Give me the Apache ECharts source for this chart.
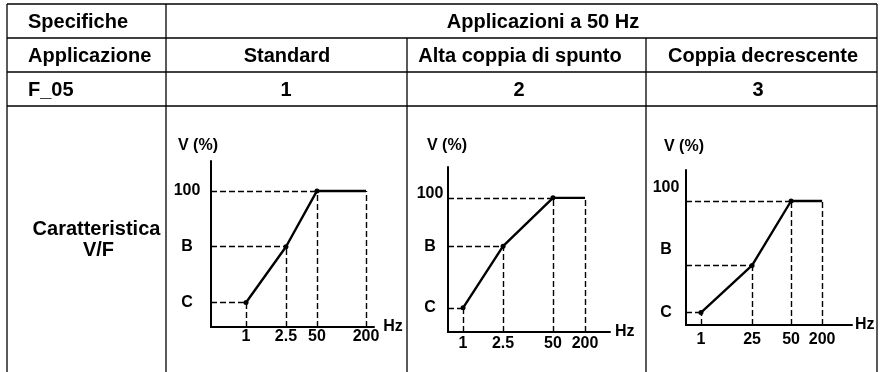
<!DOCTYPE html>
<html>
<head>
<meta charset="utf-8">
<script src="https://cdn.jsdelivr.net/npm/echarts@6/dist/echarts.min.js"></script>
<style>
  html, body { margin: 0; padding: 0; background: #fff; }
  #chart { width: 880px; height: 372px; }
</style>
</head>
<body>
<div id="chart"></div>
<script>
// ---- Table text ----
const specRowLabels = ['Specifiche', 'Applicazione', 'F_05'];
const spanTitle = 'Applicazioni a 50 Hz';
const applicationNames = ['Standard', 'Alta coppia di spunto', 'Coppia decrescente'];
const f05Values = ['1', '2', '3'];
const curveRowLabel = ['Caratteristica', 'V/F'];
const yAxisTitle = 'V (%)';
const xAxisTitle = 'Hz';

// ---- V/F curves (voltage in % of rated, frequency breakpoints in Hz) ----
const levelNames = ['C', 'B', '100'];

const standardHz = [1, 2.5, 50, 200];
const standardHzLabels = ['1', '2.5', '50', '200'];
const standardV = [18, 59, 100, 100];

const altaHz = [1, 2.5, 50, 200];
const altaHzLabels = ['1', '2.5', '50', '200'];
const altaV = [18, 64, 100, 100];

const decrescenteHz = [1, 25, 50, 200];
const decrescenteHzLabels = ['1', '25', '50', '200'];
const decrescenteV = [10, 48, 100, 100];

// ---- Styling / layout ----
const INK = '#000';
const FONT = '"Liberation Sans", Arial, Helvetica, sans-serif';

// The frequency axis is schematic (not to scale): each breakpoint sits at a
// fixed fraction of the axis length.
const panels = [
  {
    hz: standardHz, hzLabels: standardHzLabels, v: standardV,
    grid: { left: 211, top: 161, width: 163, height: 166 }, vMax: 122,
    freqStops: [0.215, 0.46, 0.65, 0.951],
    levelLabelAt: [18, 59, 100],
    yLabelMargin: 24, xLabelMargin: 2,
    vNamePad: [0, 26, 0, 0], vNameGap: 7,
    hzNameGap: 9, hzNamePad: [0, 0, 6, 0]
  },
  {
    hz: altaHz, hzLabels: altaHzLabels, v: altaV,
    grid: { left: 448, top: 167, width: 162, height: 165 }, vMax: 123,
    freqStops: [0.093, 0.34, 0.648, 0.846],
    levelLabelAt: [18, 64, 103.5],
    yLabelMargin: 18, xLabelMargin: 4,
    vNamePad: [0, 2, 0, 0], vNameGap: 13,
    hzNameGap: 5, hzNamePad: [0, 0, 0, 0]
  },
  {
    hz: decrescenteHz, hzLabels: decrescenteHzLabels, v: decrescenteV,
    grid: { left: 686, top: 170, width: 166, height: 155 }, vMax: 125,
    freqStops: [0.09, 0.398, 0.633, 0.82],
    levelLabelAt: [10, 60.5, 110.5],
    yLabelMargin: 20, xLabelMargin: 7,
    vNamePad: [0, 4, 0, 0], vNameGap: 15,
    hzNameGap: 3, hzNamePad: [10, 0, 0, 0]
  }
];

function nearestIndex(list, v) {
  let best = 0;
  for (let i = 1; i < list.length; i++) {
    if (Math.abs(list[i] - v) < Math.abs(list[best] - v)) best = i;
  }
  return best;
}
function freqPos(p, hz) { return p.freqStops[p.hz.indexOf(hz)]; }

const labelFont = { fontSize: 16, fontWeight: 'bold', fontFamily: FONT, color: INK };

// Dashed guides from each breakpoint to both axes
function guides(p) {
  const lines = [];
  const last = p.hz.length - 1;
  p.hz.forEach((h, k) => {
    const x = freqPos(p, h);
    if (k < last) lines.push([{ coord: [0, p.v[k]] }, { coord: [x, p.v[k]] }]);
    lines.push([{ coord: [x, 0] }, { coord: [x, p.v[k]] }]);
  });
  return lines;
}

// ---- Table frame ----
const L = 7, R = 877, T = 4, B = 372;
const rowY = [T, 38, 72, 106];
const colX = [166, 407, 646];
const frame = [];
function hline(y, x1, x2) { frame.push({ type: 'line', shape: { x1, y1: y, x2, y2: y }, style: { stroke: INK, lineWidth: 1.3 }, silent: true }); }
function vline(x, y1, y2) { frame.push({ type: 'line', shape: { x1: x, y1, x2: x, y2 }, style: { stroke: INK, lineWidth: 1.3 }, silent: true }); }
rowY.forEach(y => hline(y, L, R));
vline(L, T, B); vline(R, T, B);
vline(colX[0], T, B); vline(colX[1], rowY[1], B); vline(colX[2], rowY[1], B);

function txt(text, x, y, align) {
  return {
    type: 'text', x, y, silent: true,
    style: {
      text, fill: INK, font: `bold 20px ${FONT}`,
      align, verticalAlign: 'middle', textAlign: align, textVerticalAlign: 'middle'
    }
  };
}
const texts = [
  txt(specRowLabels[0], 28, 22.5, 'left'),
  txt(spanTitle, 543, 22.5, 'center'),
  txt(specRowLabels[1], 28, 56, 'left'),
  txt(applicationNames[0], 287, 56, 'center'),
  txt(applicationNames[1], 520, 56, 'center'),
  txt(applicationNames[2], 763, 56, 'center'),
  txt(specRowLabels[2], 28, 90.5, 'left'),
  txt(f05Values[0], 286, 90.5, 'center'),
  txt(f05Values[1], 519, 90.5, 'center'),
  txt(f05Values[2], 758, 90.5, 'center'),
  txt(curveRowLabel[0], 96.5, 229.5, 'center'),
  txt(curveRowLabel[1], 98.5, 250.5, 'center')
];

const option = {
  backgroundColor: '#fff',
  animation: false,
  textStyle: { fontFamily: FONT },
  graphic: { elements: frame.concat(texts) },
  grid: panels.map(p => Object.assign({ containLabel: false, outerBoundsMode: 'none' }, p.grid)),
  xAxis: panels.map((p, i) => ({
    type: 'value', gridIndex: i, min: 0, max: 1,
    axisLine: { show: true, onZero: false, lineStyle: { color: INK, width: 2 } },
    axisTick: { show: false },
    splitLine: { show: false },
    axisLabel: Object.assign({
      customValues: p.freqStops,
      formatter: v => p.hzLabels[nearestIndex(p.freqStops, v)],
      margin: p.xLabelMargin, hideOverlap: false
    }, labelFont),
    name: xAxisTitle, nameLocation: 'end', nameGap: p.hzNameGap,
    nameTextStyle: Object.assign({ padding: p.hzNamePad }, labelFont)
  })),
  yAxis: panels.map((p, i) => ({
    type: 'value', gridIndex: i, min: 0, max: p.vMax,
    axisLine: { show: true, onZero: false, lineStyle: { color: INK, width: 2 } },
    axisTick: { show: false },
    splitLine: { show: false },
    axisLabel: Object.assign({
      customValues: p.levelLabelAt,
      formatter: v => levelNames[nearestIndex(p.levelLabelAt, v)],
      margin: p.yLabelMargin, align: 'center', hideOverlap: false
    }, labelFont),
    name: yAxisTitle, nameLocation: 'end', nameGap: p.vNameGap,
    nameTextStyle: Object.assign({ padding: p.vNamePad }, labelFont)
  })),
  series: panels.map((p, i) => ({
    type: 'line', xAxisIndex: i, yAxisIndex: i,
    symbol: 'circle', showSymbol: true, silent: true,
    data: p.hz.map((h, k) => ({
      value: [freqPos(p, h), p.v[k]],
      symbolSize: k < p.hz.length - 1 ? 5 : 0
    })),
    lineStyle: { color: INK, width: 2.4 },
    itemStyle: { color: INK },
    z: 3,
    markLine: {
      silent: true, animation: false,
      symbol: ['none', 'none'],
      label: { show: false },
      lineStyle: { color: INK, width: 1.4, type: [6, 3] },
      emphasis: { disabled: true },
      data: guides(p)
    }
  }))
};

const chart = echarts.init(document.getElementById('chart'), null, { renderer: 'canvas' });
chart.setOption(option);
</script>
</body>
</html>
